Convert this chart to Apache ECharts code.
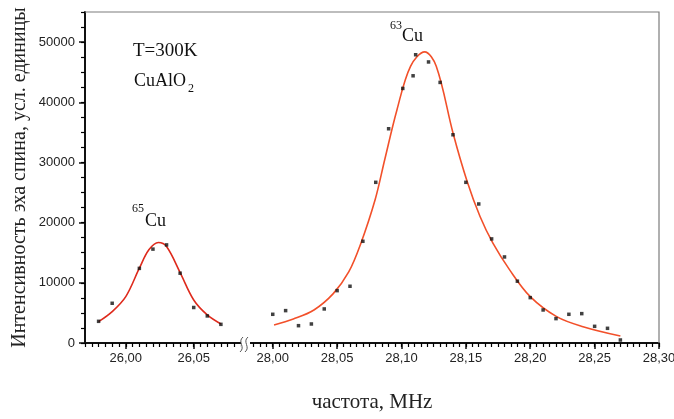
<!DOCTYPE html>
<html>
<head>
<meta charset="utf-8">
<script src="https://cdn.jsdelivr.net/npm/echarts@6/dist/echarts.min.js"></script>
<style>
  html, body { margin: 0; padding: 0; background: #fff; }
  #chart { width: 674px; height: 419px; }
</style>
</head>
<body>
<div id="chart"></div>
<script>
// 65Cu line, measured points [MHz, intensity]
var cu65Points = [[25.980, 3600], [25.990, 6600], [26.010, 12400], [26.020, 15600], [26.030, 16300],
  [26.040, 11600], [26.050, 5900], [26.060, 4500], [26.070, 3100]];
// 65Cu fit curve
var cu65Fit = [[25.980, 3540], [25.990, 5210], [26.000, 7700], [26.010, 12430], [26.017, 15480],
  [26.024, 16700], [26.030, 16020], [26.040, 11700], [26.050, 7150], [26.060, 4660], [26.070, 3160]];

// 63Cu line, measured points
var cu63Points = [[28.000, 4770], [28.010, 5380], [28.020, 2880], [28.030, 3160], [28.040, 5660],
  [28.050, 8700], [28.060, 9430], [28.070, 16900], [28.080, 26700], [28.090, 35600], [28.101, 42300],
  [28.109, 44400], [28.111, 47900], [28.121, 46700], [28.130, 43300], [28.140, 34600], [28.150, 26700],
  [28.160, 23100], [28.170, 17300], [28.180, 14300], [28.190, 10270], [28.200, 7540], [28.210, 5490],
  [28.220, 4050], [28.230, 4770], [28.240, 4880], [28.250, 2770], [28.260, 2440], [28.270, 500]];
// 63Cu fit curve
var cu63Fit = [[28.001, 3000], [28.016, 4000], [28.032, 5490], [28.047, 8200], [28.059, 11800],
  [28.068, 16300], [28.0795, 23800], [28.087, 30500], [28.0965, 38770], [28.107, 45980], [28.118, 48370],
  [28.127, 45980], [28.140, 34900], [28.151, 26840], [28.161, 21020], [28.171, 16590], [28.184, 12150],
  [28.200, 7700], [28.2205, 4380], [28.241, 2710], [28.270, 1160]];

// axis ticks
var leftTicks = [26.00, 26.05];
var rightTicks = [28.00, 28.05, 28.10, 28.15, 28.20, 28.25, 28.30];
var yTicks = [0, 10000, 20000, 30000, 40000, 50000];

var LEFT_RANGE = [25.97, 26.087];
var RIGHT_RANGE = [27.98, 28.30];
var Y_RANGE = [0, 55000];

// plot box in pixels
var box = { left: 85, top: 12, right: 659, bottom: 343, breakL: 244, breakR: 247 };
var plotH = box.bottom - box.top;

var serif = "'Times New Roman', 'Liberation Serif', serif";
var sans = "Arial, 'Liberation Sans', sans-serif";
var ink = '#111';

function commaFmt(v) { return v.toFixed(2).replace('.', ','); }

function majorX(grid, range, ticks) {
  return {
    type: 'value', gridIndex: grid, min: range[0], max: range[1], position: 'bottom',
    axisLine: { show: true, onZero: false, lineStyle: { color: ink, width: 2 } },
    axisTick: { show: true, length: 6, customValues: ticks, lineStyle: { color: ink, width: 1.5 } },
    axisLabel: { customValues: ticks, formatter: commaFmt, margin: 9,
      fontFamily: sans, fontSize: 13, color: '#222' },
    splitLine: { show: false }
  };
}
// minor ticks: a top axis pushed down onto the bottom line, ticks pointing out
function minorX(grid, range) {
  return {
    type: 'value', gridIndex: grid, min: range[0], max: range[1], interval: 0.005,
    position: 'top', offset: -plotH,
    axisLine: { show: false, onZero: false },
    axisTick: { show: true, inside: true, length: 4, lineStyle: { color: '#000', width: 1.2 } },
    axisLabel: { show: false },
    splitLine: { show: false }
  };
}

var chart = echarts.init(document.getElementById('chart'), null, { renderer: 'canvas' });

var option = {
  animation: false,
  backgroundColor: '#fff',
  grid: [
    { left: box.left, top: box.top, width: box.breakL - box.left, height: plotH, outerBoundsMode: 'none' },
    { left: box.breakR, top: box.top, right: 674 - box.right, height: plotH, outerBoundsMode: 'none' }
  ],
  xAxis: [
    majorX(0, LEFT_RANGE, leftTicks),
    minorX(0, LEFT_RANGE),
    majorX(1, RIGHT_RANGE, rightTicks),
    minorX(1, RIGHT_RANGE)
  ],
  yAxis: [
    {
      type: 'value', gridIndex: 0, min: Y_RANGE[0], max: Y_RANGE[1], position: 'left',
      name: 'Интенсивность эха спина, усл. единицы',
      nameLocation: 'middle', nameGap: 55,
      nameTextStyle: { fontFamily: serif, fontSize: 20, color: '#222' },
      axisLine: { show: true, onZero: false, lineStyle: { color: ink, width: 2 } },
      axisTick: { show: true, length: 6, customValues: yTicks, lineStyle: { color: ink, width: 1.5 } },
      axisLabel: { customValues: yTicks, margin: 10, formatter: function (v) { return String(v); },
        fontFamily: sans, fontSize: 13, color: '#222' },
      splitLine: { show: false }
    },
    {
      // minor ticks: a right axis pushed onto the left line
      type: 'value', gridIndex: 0, min: Y_RANGE[0], max: Y_RANGE[1], interval: 2500,
      position: 'right', offset: -(box.breakL - box.left),
      axisLine: { show: false, onZero: false },
      axisTick: { show: true, inside: true, length: 4, lineStyle: { color: '#000', width: 1.2 } },
      axisLabel: { show: false },
      splitLine: { show: false }
    },
    {
      type: 'value', gridIndex: 1, min: Y_RANGE[0], max: Y_RANGE[1], show: false
    }
  ],
  series: [
    {
      type: 'line', xAxisIndex: 0, yAxisIndex: 0, data: cu65Fit, smooth: 0.35,
      showSymbol: false, lineStyle: { color: '#de2a1c', width: 1.6 }, z: 2
    },
    {
      type: 'scatter', xAxisIndex: 0, yAxisIndex: 0, data: cu65Points,
      symbol: 'rect', symbolSize: 3.5, itemStyle: { color: ink }, z: 3
    },
    {
      type: 'line', xAxisIndex: 2, yAxisIndex: 2, data: cu63Fit, smooth: 0.35,
      showSymbol: false, lineStyle: { color: '#f2502a', width: 1.6 }, z: 2
    },
    {
      type: 'scatter', xAxisIndex: 2, yAxisIndex: 2, data: cu63Points,
      symbol: 'rect', symbolSize: 3.5, itemStyle: { color: ink }, z: 3
    }
  ],
  graphic: [
    // top and right frame
    { type: 'polyline', z: 1, shape: { points: [[box.left, box.top], [box.right, box.top], [box.right, box.bottom]] },
      style: { stroke: '#7c7c7c', lineWidth: 1.2, fill: null } },
    // axis break
    { type: 'rect', z: 5, shape: { x: 241, y: 339, width: 9, height: 8 }, style: { fill: '#fff' } },
    { type: 'bezierCurve', z: 6, shape: { x1: 240, y1: 352, x2: 243, y2: 337, cpx1: 246, cpy1: 347, cpx2: 237, cpy2: 342 },
      style: { stroke: '#555', lineWidth: 1, fill: null } },
    { type: 'bezierCurve', z: 6, shape: { x1: 245, y1: 352, x2: 248, y2: 337, cpx1: 251, cpy1: 347, cpx2: 242, cpy2: 342 },
      style: { stroke: '#555', lineWidth: 1, fill: null } },
    // x axis title
    { type: 'text', position: [372, 402],
      style: { text: 'частота, MHz', fontFamily: serif, fontSize: 21, fill: '#222', align: 'center', verticalAlign: 'middle' } },
    // annotations
    { type: 'text', position: [133, 51], style: { text: 'T=300K', fontFamily: serif, fontSize: 19, fill: '#111', verticalAlign: 'middle' } },
    { type: 'text', position: [134, 81], style: { text: 'CuAlO', fontFamily: serif, fontSize: 18, fill: '#111', verticalAlign: 'middle' } },
    { type: 'text', position: [188, 89], style: { text: '2', fontFamily: serif, fontSize: 12, fill: '#111', verticalAlign: 'middle' } },
    { type: 'text', position: [132, 209], style: { text: '65', fontFamily: serif, fontSize: 12, fill: '#111', verticalAlign: 'middle' } },
    { type: 'text', position: [145, 221], style: { text: 'Cu', fontFamily: serif, fontSize: 18, fill: '#111', verticalAlign: 'middle' } },
    { type: 'text', position: [390, 26], style: { text: '63', fontFamily: serif, fontSize: 12, fill: '#111', verticalAlign: 'middle' } },
    { type: 'text', position: [402, 36], style: { text: 'Cu', fontFamily: serif, fontSize: 18, fill: '#111', verticalAlign: 'middle' } }
  ]
};

chart.setOption(option);
</script>
</body>
</html>
